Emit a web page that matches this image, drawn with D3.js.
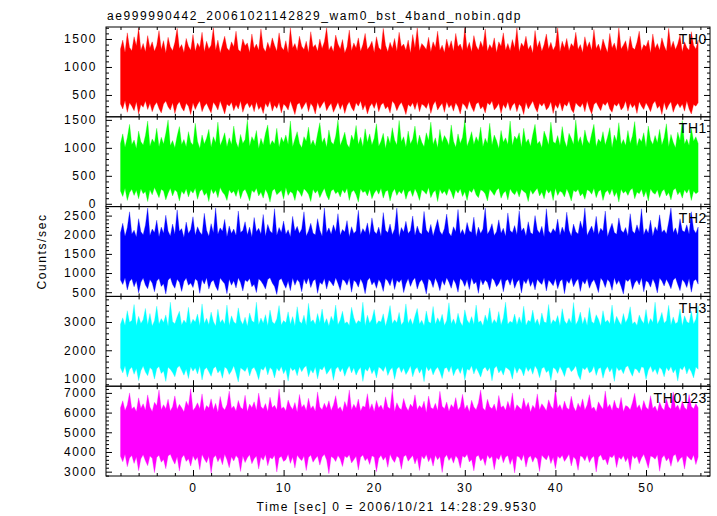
<!DOCTYPE html>
<html><head><meta charset="utf-8">
<script src="https://cdn.jsdelivr.net/npm/d3@7/dist/d3.min.js"></script>
<style>body{margin:0;background:#fff;} svg{display:block;}</style>
</head><body>
<svg id="c" width="717" height="516"></svg>
<script>
const titleText = "ae999990442_20061021142829_wam0_bst_4band_nobin.qdp";
const xLabelText = "Time [sec] 0 = 2006/10/21 14:28:29.9530";
const yLabelText = "Counts/sec";
const panelNames = ["TH0", "TH1", "TH2", "TH3", "TH0123"];
const panelColors = ["#ff0000", "#00ff00", "#0000ff", "#00ffff", "#ff00ff"];
const tStart = -8.0, tStep = 0.25;

// Per-bin upper / lower envelope of each light curve (counts/sec)
const th0Hi = [1320,1480,1260,1610,1350,1290,1540,1380,1700,1300,1420,1270,1560,1340,1450,1280,
1390,1650,1310,1470,1250,1530,1360,1290,1440,1690,1330,1400,1260,1510,1370,1300,
1580,1280,1430,1350,1620,1270,1460,1320,1390,1700,1300,1480,1250,1400,1550,1340,
1290,1450,1360,1640,1310,1270,1500,1380,1430,1260,1590,1330,1410,1300,1680,1350,
1270,1440,1320,1520,1390,1280,1610,1360,1300,1470,1250,1700,1340,1420,1290,1550,
1370,1310,1460,1260,1630,1350,1400,1280,1500,1330,1450,1700,1300,1380,1270,1570,
1410,1320,1490,1250,1360,1660,1290,1430,1340,1520,1280,1400,1600,1310,1370,1460,
1260,1540,1350,1300,1690,1390,1270,1440,1330,1510,1280,1620,1360,1410,1300,1480,
1250,1580,1340,1700,1290,1420,1370,1310,1530,1270,1450,1350,1640,1300,1390,1260,
1500,1330,1470,1280,1600,1360,1410,1290,1700,1320,1440,1270,1560,1380,1300,1460,
1350,1680,1280,1400,1330,1520,1260,1450,1370,1610,1300,1420,1290,1490,1340,1700,
1270,1430,1360,1550,1310,1390,1250,1650,1350,1470,1280,1400,1590,1320,1440,1300,
1380,1700,1270,1460,1340,1510,1290,1420,1360,1620,1310,1400,1260,1540,1350,1450,
1300,1670,1330,1410,1280,1500,1370,1260,1600,1340,1430,1290,1700,1320,1390,1470,
1270,1550,1350,1310,1440,1640,1290,1400,1360,1480,1250,1590,1330,1420,1300,1520,
1380,1280,1690,1340,1460,1310,1410,1570,1270,1450,1350,1300,1630,1390,1320,1480];
const th0Lo = [340,250,400,190,360,300,220,380,160,330,280,390,240,350,200,310,
370,260,180,340,390,290,230,360,170,320,380,270,210,350,300,150,
360,240,330,390,200,300,350,260,180,370,310,230,390,280,160,340,
300,370,220,330,250,390,190,310,360,270,340,200,380,240,300,170,
350,280,390,210,320,260,370,180,340,300,230,390,270,150,330,360,
240,310,380,200,350,290,160,370,260,330,390,220,300,350,190,280,
370,240,340,170,310,380,270,210,360,300,390,230,330,160,290,350,
260,380,200,320,360,250,300,180,390,340,220,310,370,270,150,330,
290,360,240,380,200,340,310,260,370,170,320,390,230,300,350,190,
380,270,330,210,360,290,160,350,310,240,390,280,200,340,370,250,
300,180,360,320,390,230,280,350,170,330,260,380,220,310,360,200,
340,290,150,370,250,320,390,270,190,350,300,360,230,280,380,170,
330,260,370,210,340,300,390,240,180,360,310,280,350,200,390,260,
160,330,370,290,220,350,310,380,250,190,340,300,360,230,280,390,
210,350,270,330,170,380,300,240,360,290,200,340,390,260,310,150,
370,230,320,380,190,300,350,270,340,210,390,250,160,330,300,360];

const th1Hi = [1080,1250,1010,1180,1420,1060,1140,990,1300,1110,1050,1220,1480,1030,1160,1090,
1350,1020,1190,1070,1260,1500,1040,1130,1000,1210,1380,1060,1150,1020,1290,1100,
1050,1440,1120,990,1230,1070,1170,1330,1010,1200,1090,1460,1040,1140,1270,1020,
1180,1060,1390,1110,1000,1240,1080,1150,1500,1030,1200,1120,1310,990,1170,1050,
1260,1410,1040,1130,1070,1350,1010,1190,1100,1230,1060,1480,1020,1160,1290,1080,
1000,1200,1120,1370,1050,1140,1030,1250,1450,1090,1180,1010,1320,1110,1060,1210,
1500,1040,1150,1280,1070,1000,1230,1130,1400,1060,1190,1020,1340,1100,1250,1050,
1170,1430,1030,1120,1260,990,1210,1080,1360,1140,1050,1490,1110,1200,1010,1300,
1070,1160,1390,1040,1230,1100,1020,1270,1130,1460,1060,1180,1000,1330,1090,1220,
1150,1040,1410,1120,1010,1250,1080,1190,1500,1030,1140,1290,1060,1200,1110,1370,
1020,1170,1080,1440,1050,1230,1130,990,1310,1100,1180,1060,1480,1040,1210,1150,
1270,1010,1350,1090,1160,1030,1240,1420,1070,1120,1000,1300,1190,1050,1460,1110,
1080,1220,1040,1380,1130,1010,1260,1170,1060,1500,1090,1200,1030,1320,1140,1070,
1250,1420,1020,1160,1100,1290,1050,1190,1360,1000,1230,1120,1450,1060,1150,1040,
1310,1080,1210,1470,1030,1170,1110,1270,1010,1390,1140,1060,1220,1090,1330,1050,
1180,1430,1020,1240,1100,1000,1280,1130,1490,1070,1160,1040,1350,1120,1200,1080];
const th1Lo = [230,130,280,60,200,260,150,240,90,270,180,220,40,250,160,290,
200,110,260,230,70,190,280,140,250,210,50,230,170,270,120,240,
190,280,80,220,260,150,200,40,270,180,240,110,290,210,160,60,
250,190,230,130,270,90,220,260,170,50,240,200,280,140,210,100,
260,180,30,230,270,160,200,240,80,290,150,220,190,60,250,210,
130,270,230,170,40,260,190,240,110,200,280,150,70,230,260,180,
220,120,250,190,280,60,210,240,160,30,270,200,230,140,260,90,
190,250,170,280,100,220,240,50,200,270,150,230,180,260,80,210,
240,130,270,190,60,250,220,170,290,110,200,240,40,260,180,230,
150,280,210,90,250,190,270,130,220,60,240,200,280,160,110,250,
230,180,50,260,210,150,240,280,100,190,230,70,270,200,160,240,
120,260,220,190,40,250,170,230,280,140,210,90,260,190,240,60,
280,150,230,200,120,270,180,50,240,210,260,140,190,80,250,230,
170,280,110,220,250,60,200,240,160,270,130,210,30,260,190,230,
150,240,280,90,210,180,260,120,230,50,270,200,170,250,110,220,
260,140,200,70,240,280,160,220,100,250,190,270,60,230,180,210];

const th2Hi = [2050,2300,1960,2180,2600,2020,2120,1940,2420,2080,2000,2250,2700,1980,2150,2060,
2380,1950,2200,2040,2510,2100,1970,2280,2010,2650,2090,2160,1930,2330,2030,2140,
2470,1990,2210,2070,2000,2560,2120,1960,2290,2050,2700,2010,2180,2090,2400,1950,
2230,2030,2150,1980,2620,2060,2110,2340,2000,2200,1940,2450,2080,2170,2020,2530,
1960,2270,2100,2040,2680,1990,2190,2060,2360,2010,2130,1950,2480,2090,2220,2030,
2150,2600,1970,2100,2300,2040,2000,2420,2120,1960,2700,2050,2180,2010,2260,2080,
2550,1990,2140,2070,2370,1950,2210,2030,2100,2640,2000,2160,2060,2310,1980,2440,
2090,2020,2200,1960,2580,2120,2050,2280,2000,2150,2700,1940,2190,2070,2350,2030,
2110,2490,1980,2230,2060,2010,2610,2130,2040,2270,1970,2180,2400,2090,2000,2160,
2540,2050,1960,2210,2080,2660,2020,2140,1990,2320,2100,2060,2460,1950,2200,2030,
2150,2700,2010,2120,2290,1980,2080,2390,2040,2170,1960,2570,2110,2050,2240,2000,
2630,2090,2180,1970,2340,2060,2010,2500,2130,2040,2220,1950,2680,2100,2030,2160,
2070,2410,1990,2200,2050,2590,2120,1960,2280,2080,2020,2360,2150,2700,1980,2110,
2230,2040,2480,2000,2170,2090,2620,1950,2140,2300,2060,2010,2440,2120,2050,2190,
1970,2550,2100,2030,2260,2080,2680,2000,2160,2040,2380,1960,2210,2090,2520,2060,
2130,2020,2330,2700,2050,2180,1990,2420,2110,2070,2260,2010,2600,2140,2040,2200];
const th2Lo = [820,700,880,560,780,850,640,800,480,760,870,690,590,830,740,510,
790,860,650,720,450,810,880,700,600,840,760,520,780,870,680,740,
620,850,790,470,830,710,880,580,760,820,650,540,870,790,720,460,
840,680,800,610,880,750,530,820,770,860,640,710,490,850,790,700,
580,830,880,740,650,440,810,860,720,600,790,540,870,680,830,760,
510,850,710,880,620,790,840,470,760,700,860,580,820,750,660,880,
730,550,840,790,680,870,500,810,760,630,850,720,460,800,880,690,
780,600,830,740,520,860,790,670,880,570,810,750,840,490,720,860,
650,800,880,580,760,830,700,450,850,790,620,870,740,540,810,680,
880,760,600,840,720,500,860,790,650,830,570,880,710,770,470,840,
690,820,750,560,870,800,640,730,860,510,790,840,680,880,600,760,
830,480,810,720,870,650,790,560,840,760,700,880,530,820,750,670,
860,590,780,840,460,810,730,880,640,770,850,520,800,710,860,600,
750,830,680,490,870,790,620,840,760,550,880,700,810,650,450,830,
780,860,570,740,820,690,880,510,800,760,630,850,720,480,870,790,
660,840,730,590,810,880,700,540,830,760,620,860,500,790,840,710];

const th3Hi = [2920,3150,2880,3400,2990,3050,3620,2870,3200,2950,3080,3480,2900,3300,2860,3040,
3560,2930,3120,2980,3250,2850,3700,3010,2940,3180,3380,2890,3070,2960,3520,2910,
3100,3000,3280,2870,3640,2950,3130,2900,3350,3020,2860,3450,2970,3090,2920,3600,
2880,3220,3000,2940,3500,3060,2910,3170,2850,3320,3040,2980,3700,2900,3140,2960,
3260,2870,3420,3010,2930,3110,3580,2890,3050,2970,3360,2920,3190,2860,3540,3030,
2950,3240,2880,3660,3000,3080,2910,3300,2970,3460,2940,3120,2860,3200,3020,3600,
2900,3070,3380,2950,3010,2880,3520,3150,2930,3050,2990,3700,2870,3240,2960,3100,
3440,2910,3040,3000,3290,2850,3160,3580,2940,3080,2970,3340,2890,3020,3640,2950,
3120,2900,3210,3480,2930,3060,2870,3390,3010,2960,3550,2920,3150,2980,3270,2880,
3050,3680,2940,3110,2900,3310,3000,2860,3430,3070,2950,3190,2910,3600,2980,3040,
2870,3250,3020,3500,2930,3090,2960,3370,2890,3140,3700,2920,3030,2970,3280,2900,
3180,2950,3560,2880,3060,3010,3420,2940,3110,2860,3320,3000,2970,3620,2910,3080,
2990,3230,2870,3470,3040,2930,3130,2960,3690,2900,3050,3350,2920,3170,2880,3510,
3020,2950,3260,3100,2860,3400,2990,3070,2940,3600,2910,3200,3030,2890,3300,2970,
3140,3540,2930,3010,2880,3250,3060,2950,3440,2900,3120,2980,3700,2920,3080,3340,
2960,3040,3590,2890,3180,2940,3000,3460,2870,3220,3010,2960,3380,2930,3100,3560];
const th3Lo = [1380,1200,1450,1050,1320,1410,1150,1360,930,1280,1440,1230,1100,1390,1310,980,
1350,1430,1180,1270,900,1400,1330,1210,1060,1370,1450,1290,1120,1340,1000,1420,
1260,1380,1160,1440,950,1310,1390,1240,1080,1360,1430,1200,1300,1010,1410,1350,
1140,1270,1450,1190,880,1380,1320,1250,1420,1090,1340,1400,1220,960,1360,1290,
1440,1130,1390,1310,1020,1370,1260,1430,1170,1330,910,1400,1280,1350,1100,1420,
1240,1380,1450,1060,1320,1190,1410,990,1360,1300,1440,1150,1270,1390,940,1340,
1420,1230,1370,1080,1310,1450,1200,1380,1120,1290,1400,900,1350,1260,1430,1170,
1330,1020,1410,1360,1250,1440,1110,1300,1390,970,1340,1420,1210,1370,1140,1280,
1450,1060,1320,1400,1190,1350,890,1430,1270,1380,1130,1310,1410,1240,1000,1360,
1390,1220,1440,1100,1300,1370,1180,1420,950,1340,1290,1450,1160,1380,1230,1050,
1330,1410,1260,1390,920,1360,1440,1200,1310,1120,1400,1350,1270,980,1430,1190,
1370,1300,1090,1420,1250,1380,1150,1450,1320,1030,1360,1410,1210,1290,930,1390,
1340,1180,1430,1280,1070,1370,1400,1240,1320,1450,1130,960,1380,1310,1420,1200,
1260,1440,1110,1350,1390,1010,1300,1430,1230,1370,900,1410,1280,1340,1170,1400,
1450,1250,1080,1360,1320,1190,1420,1380,970,1290,1440,1220,1350,1140,1400,1310,
1060,1390,1270,1430,1200,1340,910,1380,1300,1450,1160,1370,1240,1020,1410,1330];

const th0123Hi = [6250,6600,6100,6380,7000,6180,6300,6050,6750,6220,6450,6120,6900,6280,6060,6520,
6350,7150,6140,6400,6200,6680,6080,6300,6850,6160,6420,6240,6040,6580,6330,7200,
6110,6260,6500,6190,6950,6070,6360,6230,6700,6150,6470,6020,6820,6290,6130,6400,
7100,6210,6340,6080,6620,6270,6170,6880,6050,6430,6250,6550,6120,6990,6310,6180,
6460,6060,6780,6240,6370,6140,7200,6200,6290,6090,6640,6330,6160,6510,6030,6920,
6260,6410,6110,6730,6190,6350,6070,7050,6280,6150,6480,6220,6600,6100,6390,6860,
6170,6300,6040,6560,6250,7150,6130,6420,6210,6690,6080,6340,6270,6960,6160,6450,
6050,6620,6230,6380,6120,6800,6290,6190,7200,6060,6500,6240,6140,6720,6310,6090,
6430,6270,6900,6150,6360,6220,6580,6010,6840,6260,6180,6470,6100,7080,6320,6200,
6540,6070,6410,6250,6760,6130,6300,6930,6170,6390,6040,6630,6280,6150,6490,7150,
6230,6110,6680,6300,6190,6440,6060,6870,6260,6350,6120,6570,6210,7000,6080,6400,
6270,6160,6740,6240,6520,6030,6370,6200,6950,6140,6450,6290,6090,6650,6330,6180,
7200,6220,6410,6100,6590,6250,6160,6830,6300,6070,6480,6230,6700,6130,6380,6910,
6200,6280,6040,6550,6340,6170,7100,6240,6420,6110,6630,6260,6190,6770,6060,6360,
6300,6140,6500,6980,6220,6400,6080,6610,6270,6160,6860,6210,6340,6050,6540,6250,
6120,6700,6290,6180,7050,6230,6390,6100,6580,6260,6150,6920,6310,6200,6460,6240];
const th0123Lo = [3780,3500,3880,3250,3700,3820,3420,3740,3050,3650,3860,3550,3300,3790,3680,2950,
3720,3840,3480,3620,3150,3800,3890,3600,3380,3760,3030,3700,3850,3520,3660,3280,
3810,3570,3740,3100,3870,3640,3450,3780,2920,3690,3830,3500,3730,3350,3880,3610,
3200,3760,3540,3820,3680,3010,3790,3460,3710,3860,3400,3650,3800,3130,3740,3580,
3870,3300,3720,3640,3840,2980,3700,3780,3520,3610,3890,3420,3750,3180,3830,3680,
3560,3790,3060,3720,3850,3480,3660,3800,3330,3740,3880,3590,2900,3770,3700,3510,
3820,3640,3260,3790,3710,3860,3440,3600,3780,3080,3730,3850,3550,3690,3360,3810,
3740,3000,3670,3840,3580,3760,3220,3880,3630,3470,3800,3700,3120,3760,3850,3530,
3680,3820,3390,3710,3060,3790,3640,3870,3500,3730,3280,3840,3600,3770,2960,3700,
3860,3570,3740,3430,3810,3650,3180,3790,3720,3880,3490,3620,3040,3760,3830,3540,
3700,3310,3850,3660,3780,3100,3720,3600,3890,3450,3750,3820,3370,3680,2930,3800,
3740,3560,3870,3230,3690,3810,3480,3760,3640,3010,3830,3710,3590,3860,3410,3730,
3150,3790,3670,3840,3520,3700,3880,3290,3760,3620,3070,3810,3740,3550,3850,3460,
3690,3800,2980,3730,3860,3580,3640,3340,3780,3710,3870,3210,3750,3620,3820,3500,
3720,3090,3840,3660,3780,3400,3700,3880,3560,3170,3800,3740,3630,3860,3020,3690,
3830,3540,3710,3270,3790,3880,3470,3650,3760,3130,3820,3700,3580,3850,3360,3740];

const seriesHi = [th0Hi, th1Hi, th2Hi, th3Hi, th0123Hi];
const seriesLo = [th0Lo, th1Lo, th2Lo, th3Lo, th0123Lo];

const xDomain = [-9.6, 57.06];
const xMajorTicks = [0, 10, 20, 30, 40, 50];
const xMinorStep = 2;
const yDomains = [[110, 1714], [-50, 1555], [390, 2735], [730, 3905], [2780, 7340]];
const yMajorTicks = [[500, 1000, 1500], [0, 500, 1000, 1500], [500, 1000, 1500, 2000, 2500],
                     [1000, 2000, 3000], [3000, 4000, 5000, 6000, 7000]];
const yMinorSteps = [100, 100, 100, 200, 200];

// ---- layout ----
const W = 717, H = 516;
const L = 106, R = 710, T = 27, B = 476;
const nP = 5, ph = (B - T) / nP;
const FONT = "'Liberation Sans', Arial, Helvetica, sans-serif";

const svg = d3.select("#c");
svg.append("rect").attr("width", W).attr("height", H).attr("fill", "#fff");

const x = d3.scaleLinear().domain(xDomain).range([L, R]);
const xMinor = d3.range(Math.ceil(xDomain[0] / xMinorStep) * xMinorStep, xDomain[1], xMinorStep)
  .filter(v => !xMajorTicks.includes(v));

function styleAxis(g) {
  g.select(".domain").remove();
  g.selectAll("line").attr("stroke", "#000").attr("stroke-width", 1);
  g.attr("font-family", FONT).attr("font-size", 12);
  g.selectAll("text").attr("fill", "#000").attr("letter-spacing", "1.6px");
}

const defs = svg.append("defs");

for (let i = 0; i < nP; i++) {
  const y0 = T + i * ph, y1 = T + (i + 1) * ph;
  const y = d3.scaleLinear().domain(yDomains[i]).range([y1, y0]);
  const pts = seriesHi[i].map((h, j) => ({ t: tStart + j * tStep, hi: h, lo: seriesLo[i][j] }));

  defs.append("clipPath").attr("id", "clip" + i)
    .append("rect").attr("x", L).attr("y", y0).attr("width", R - L).attr("height", ph);

  const area = d3.area().x(d => x(d.t)).y0(d => y(d.lo)).y1(d => y(d.hi));
  svg.append("path").datum(pts)
    .attr("clip-path", `url(#clip${i})`)
    .attr("d", area)
    .attr("fill", panelColors[i])
    .attr("stroke", panelColors[i]).attr("stroke-width", 0.6).attr("stroke-opacity", 0.5);

  const st = yMinorSteps[i];
  const yMinor = d3.range(Math.ceil(yDomains[i][0] / st) * st, yDomains[i][1], st)
    .filter(v => !yMajorTicks[i].includes(v));

  svg.append("g").attr("transform", `translate(${L},0)`)
    .call(d3.axisLeft(y).tickValues(yMajorTicks[i]).tickSize(-6).tickPadding(9).tickFormat(d3.format("d")))
    .call(styleAxis);
  svg.append("g").attr("transform", `translate(${L},0)`)
    .call(d3.axisLeft(y).tickValues(yMinor).tickSize(-3).tickFormat(""))
    .call(styleAxis);
  svg.append("g").attr("transform", `translate(${R},0)`)
    .call(d3.axisRight(y).tickValues(yMajorTicks[i]).tickSize(-6).tickFormat(""))
    .call(styleAxis);
  svg.append("g").attr("transform", `translate(${R},0)`)
    .call(d3.axisRight(y).tickValues(yMinor).tickSize(-3).tickFormat(""))
    .call(styleAxis);

  svg.append("g").attr("transform", `translate(0,${y0})`)
    .call(d3.axisTop(x).tickValues(xMajorTicks).tickSize(-6).tickFormat(""))
    .call(styleAxis);
  svg.append("g").attr("transform", `translate(0,${y0})`)
    .call(d3.axisTop(x).tickValues(xMinor).tickSize(-3).tickFormat(""))
    .call(styleAxis);
  svg.append("g").attr("transform", `translate(0,${y1})`)
    .call(d3.axisBottom(x).tickValues(xMajorTicks).tickSize(-6).tickPadding(7.5)
      .tickFormat(i === nP - 1 ? d3.format("d") : ""))
    .call(styleAxis);
  svg.append("g").attr("transform", `translate(0,${y1})`)
    .call(d3.axisBottom(x).tickValues(xMinor).tickSize(-3).tickFormat(""))
    .call(styleAxis);

  svg.append("rect").attr("x", L).attr("y", y0).attr("width", R - L).attr("height", ph)
    .attr("fill", "none").attr("stroke", "#000").attr("stroke-width", 1);

  svg.append("text").attr("x", R - 3).attr("y", y0 + 16.5)
    .attr("text-anchor", "end").attr("font-family", FONT).attr("font-size", 14)
    .attr("letter-spacing", "0.6px").attr("fill", "#000").text(panelNames[i]);
}

svg.append("text").attr("x", 107).attr("y", 20)
  .attr("font-family", FONT).attr("font-size", 12).attr("letter-spacing", "1.6px")
  .attr("fill", "#000").text(titleText);

svg.append("text").attr("x", 397).attr("y", 511).attr("text-anchor", "middle")
  .attr("font-family", FONT).attr("font-size", 12).attr("letter-spacing", "1.6px")
  .attr("fill", "#000").text(xLabelText);

svg.append("text").attr("transform", `translate(46,${(T + B) / 2}) rotate(-90)`)
  .attr("text-anchor", "middle")
  .attr("font-family", FONT).attr("font-size", 12).attr("letter-spacing", "1.6px")
  .attr("fill", "#000").text(yLabelText);
</script>
</body></html>
